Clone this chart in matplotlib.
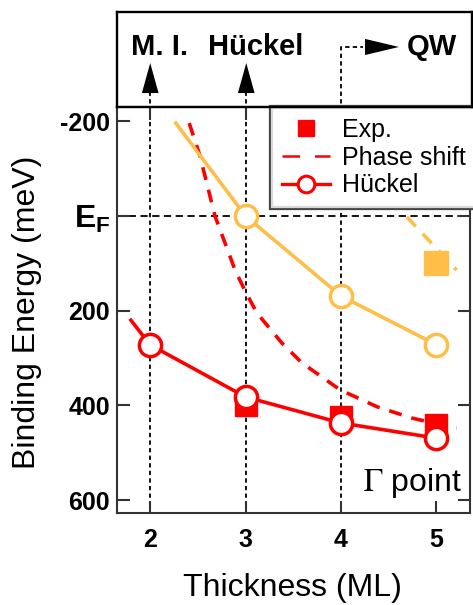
import matplotlib
matplotlib.use("Agg")
import matplotlib.pyplot as plt
from matplotlib import patheffects as pe
from matplotlib.lines import Line2D

plt.rcParams['font.family'] = ['Liberation Sans', 'DejaVu Sans']
plt.rcParams['mathtext.fontset'] = 'custom'
plt.rcParams['mathtext.rm'] = 'Liberation Sans'
plt.rcParams['mathtext.bf'] = 'Liberation Sans:bold'

# ---- data ----
thickness = [2, 3, 4, 5]
huckel_red_x = [1.80, 2, 3, 4, 5]
huckel_red_y = [220, 272, 382, 437, 469]
huckel_orange_x = [2.27, 3, 4, 5]
huckel_orange_y = [-196, 0, 169, 272]
exp_red_x = [3, 4, 5]
exp_red_y = [400, 425, 441]
exp_orange_x = [5]
exp_orange_y = [100]
phase_red_x = [2.41, 2.52, 2.68, 2.89, 3.00, 3.12, 3.38, 3.59, 3.99, 4.38, 4.75, 5.21]
phase_red_y = [-196, -129, 0, 114, 160, 205, 268, 310, 367, 403, 427, 448]
phase_orange_x = [4.69, 5.21]
phase_orange_y = [2, 114]
yticks = [-200, 0, 200, 400, 600]
yticklabels = ['-200', r'$\mathbf{E}_\mathbf{F}$', '200', '400', '600']
top_labels = ['M. I.', 'Hückel', 'QW']

RED = '#FF0000'
ORANGE = '#FFBE48'

W, H = 473, 605
fig = plt.figure(figsize=(W / 100, H / 100), dpi=100)

L, R = 117 / W, 470 / W
ax = fig.add_axes([L, 1 - 513 / H, R - L, (513 - 107) / H])
ax_top = fig.add_axes([L, 1 - 107 / H, 472 / W - L, (107 - 12) / H])

xlim = (1.654, 5.351)
ylim = (627, -230)
ax.set_xlim(*xlim)
ax.set_ylim(*ylim)
ax_top.set_xlim(*xlim)
ax_top.set_ylim(-230, -431)
ax_top.set_xticks([])
ax_top.set_yticks([])
ax_top.patch.set_visible(False)
for s in ax_top.spines.values():
    s.set_linewidth(1.7)
    s.set_color('black')

for s in ax.spines.values():
    s.set_linewidth(1.5)
    s.set_color('#333333')

ax.set_xticks(thickness)
ax.set_xticklabels([str(t) for t in thickness])
ax.set_yticks(yticks)
ax.set_yticklabels(yticklabels)
ax.tick_params(direction='in', length=9, width=1.5, color='#333333',
               top=True, right=True, labelsize=18)
ax.tick_params(axis='x', pad=11)
ax.tick_params(axis='y', pad=5)
for t in ax.get_xticklabels() + ax.get_yticklabels():
    t.set_fontweight('bold')
ax.get_yticklabels()[1].set_fontsize(23)

# reference dashed lines
ax.axhline(0, color='black', lw=1.3, dashes=(4, 2.5), zorder=1)
for xv, ytop in zip(thickness[:2], [-260, -260]):
    ax.plot([xv, xv], [ylim[0], ytop], color='black', lw=1.3, dashes=(2.4, 1.8),
            clip_on=False, zorder=1)
ax.plot([4, 4, 4.23], [ylim[0], -357, -357], color='black', lw=1.3,
        dashes=(2.4, 1.8), clip_on=False, zorder=1)

# data
LW = 2.6
ax.plot(phase_red_x, phase_red_y, color=RED, lw=LW, dashes=(3.6, 2.8), zorder=3)
ax.plot(phase_orange_x, phase_orange_y, color=ORANGE, lw=LW, dashes=(3.6, 2.8), zorder=3)
ax.plot(exp_orange_x, exp_orange_y, 's', color=ORANGE, ms=17, mec=ORANGE, zorder=4)
ax.plot(exp_red_x, exp_red_y, 's', color=RED, ms=16, mec=RED, zorder=4)
ax.plot(huckel_orange_x, huckel_orange_y, '-o', color=ORANGE, lw=LW, ms=16,
        mfc='white', mec=ORANGE, mew=2.5, markevery=[1, 2, 3], zorder=5)
ax.plot(huckel_red_x, huckel_red_y, '-o', color=RED, lw=LW, ms=16,
        mfc='white', mec=RED, mew=2.5, markevery=[1, 2, 3, 4], zorder=5)

ax.text(5.27, 563, r'$\Gamma$ point', fontsize=23, ha='right', va='center',
        math_fontfamily='stix')

# legend
h_exp = Line2D([], [], ls='none', marker='s', color=RED, ms=12)
h_ps = Line2D([], [], color=RED, lw=1.8, dashes=(7, 6))
h_hu = Line2D([], [], color=RED, lw=2.4, marker='o', ms=12, mfc='white', mec=RED, mew=2.2)
leg = ax.legend([h_exp, h_ps, h_hu], ['Exp.', 'Phase shift', 'Hückel'],
                loc='upper left', bbox_to_anchor=(272 / W, 1 - 108 / H),
                bbox_transform=fig.transFigure, borderaxespad=0, fontsize=18,
                handlelength=1.9, handletextpad=0.5, borderpad=0.4,
                labelspacing=0.15, fancybox=False, framealpha=1)
fr = leg.get_frame()
fr.set_edgecolor('#444444')
fr.set_linewidth(4.5)
fr.set_path_effects([pe.Stroke(linewidth=4.5, foreground='#444444'),
                     pe.Stroke(linewidth=1.6, foreground='#d8d8d8')])
leg.set_zorder(10)

# top panel labels and arrows
for xv in thickness[:2]:
    ax_top.annotate('', xy=(xv, -323), xytext=(xv, -260),
                    arrowprops=dict(arrowstyle='-|>,head_length=1.08,head_width=0.3',
                                    mutation_scale=20, color='black', lw=0,
                                    shrinkA=0, shrinkB=0))
ax_top.annotate('', xy=(4.59, -357), xytext=(4.23, -357),
                arrowprops=dict(arrowstyle='-|>,head_length=1.22,head_width=0.29',
                                mutation_scale=20, color='black', lw=0,
                                shrinkA=0, shrinkB=0))
for xv, lab in zip([2.10, 3.10, 4.93], top_labels):
    ax_top.text(xv, -357, lab, fontsize=21, fontweight='bold', ha='center', va='center')

fig.text(27 / W, 1 - 312 / H, 'Binding Energy (meV)', rotation=90, fontsize=23,
         ha='center', va='center')
fig.text(292 / W, 1 - 588 / H, 'Thickness (ML)', fontsize=23, ha='center', va='center')

fig.savefig('out.png', dpi=100)
